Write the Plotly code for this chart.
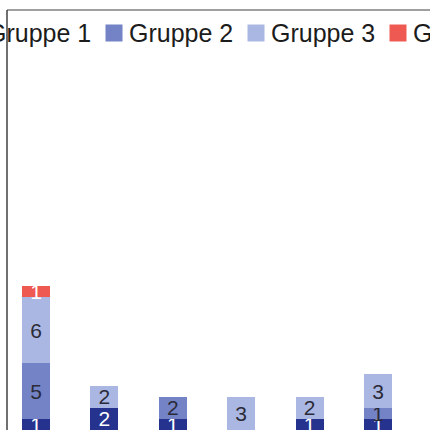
import plotly.graph_objects as go

# stacked counts per category
categories = ["1", "2", "3", "4", "5", "6"]
groups = ["Gruppe 1", "Gruppe 2", "Gruppe 3", "Gruppe 4"]
gruppe_1 = [1, 2, 1, None, 1, 1]
gruppe_2 = [5, None, 2, None, None, 1]
gruppe_3 = [6, 2, None, 3, 2, 3]
gruppe_4 = [1, None, None, None, None, None]

series = [gruppe_1, gruppe_2, gruppe_3, gruppe_4]
colors = ["#25338f", "#7383c6", "#aab7e2", "#ee5a52"]
text_colors = ["white", "#2b2b38", "#2b2b38", "white"]

FONT = "Liberation Sans, Arial, sans-serif"

# plot area in pixels (the crop shows only part of a larger chart)
PLOT_LEFT, PLOT_TOP, PLOT_W, PLOT_H = 7, 10, 423, 420


def px_x(px):
    return (px - PLOT_LEFT) / PLOT_W


def px_y(py):
    return 1 - (py - PLOT_TOP) / PLOT_H


fig = go.Figure()

for name, values, color, text_color in zip(groups, series, colors, text_colors):
    fig.add_trace(
        go.Bar(
            x=categories,
            y=values,
            name=name,
            marker=dict(color=color, line=dict(width=0)),
            texttemplate="%{y}",
            textposition="inside",
            insidetextanchor="middle",
            textangle=0,
            constraintext="none",
            textfont=dict(family=FONT, size=21, color=text_color),
            width=0.41,
            showlegend=False,
        )
    )

# legend row, drawn by hand so it can run past both edges like the crop
legend_pitch = 142
first_swatch = -28
for i, (name, color) in enumerate(zip(groups, colors)):
    cx = first_swatch + i * legend_pitch
    fig.add_shape(
        type="rect", xref="paper", yref="paper",
        x0=px_x(cx - 8.5), x1=px_x(cx + 8.5),
        y0=px_y(41.5), y1=px_y(24.5),
        fillcolor=color, line=dict(width=0), layer="above",
    )
    fig.add_annotation(
        text=name, xref="paper", yref="paper",
        x=px_x(cx + 13), y=px_y(33), xanchor="left", yanchor="middle",
        showarrow=False,
        font=dict(family=FONT, size=25, color="#1c1c1c"),
    )

# chart frame (left and top edges visible in the crop)
fig.add_shape(type="line", xref="paper", yref="paper", x0=0, x1=0, y0=0, y1=1,
              line=dict(color="#707070", width=2))
fig.add_shape(type="line", xref="paper", yref="paper", x0=0, x1=1, y0=1, y1=1,
              line=dict(color="#404040", width=1))

fig.update_layout(
    width=430,
    height=430,
    barmode="stack",
    paper_bgcolor="white",
    plot_bgcolor="white",
    margin=dict(l=PLOT_LEFT, r=430 - PLOT_LEFT - PLOT_W, t=PLOT_TOP, b=430 - PLOT_TOP - PLOT_H,
                pad=0, autoexpand=False),
    xaxis=dict(
        range=[-0.424, 5.76],
        showticklabels=False,
        showgrid=False,
        zeroline=False,
        showline=False,
        ticks="",
    ),
    yaxis=dict(
        range=[0, 37.8],
        showticklabels=False,
        showgrid=False,
        zeroline=False,
        showline=False,
        ticks="",
    ),
)

fig.write_html(
    "out.html",
    config={"displayModeBar": False},
    post_script="document.body.style.margin = '0';",
)
